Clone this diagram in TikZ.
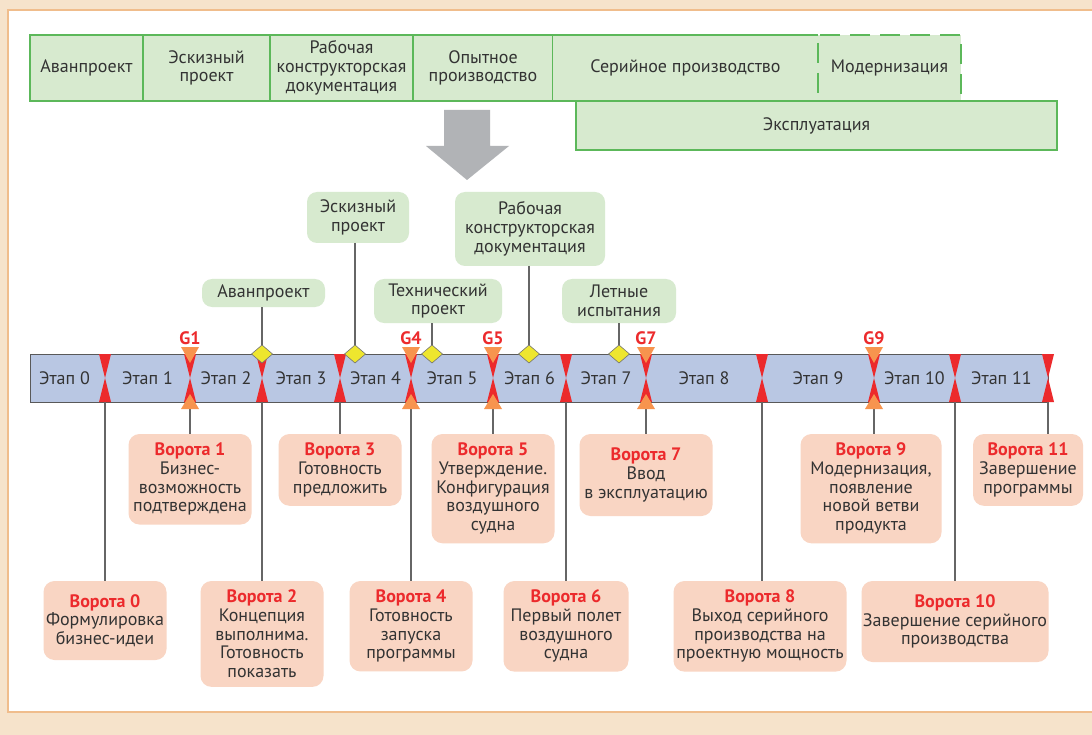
\documentclass[tikz,border=0pt]{standalone}
\usepackage{fontspec}
\setmainfont{PT Sans}
\usetikzlibrary{positioning,shapes.geometric}

\definecolor{framebg}{HTML}{F6E3CB}
\definecolor{frameline}{HTML}{F0BD8C}
\definecolor{phasefill}{HTML}{D7EACF}
\definecolor{phaseline}{HTML}{5CB85A}
\definecolor{barfill}{HTML}{B9C7E3}
\definecolor{gatered}{HTML}{EC2A2C}
\definecolor{gateorange}{HTML}{F7944E}
\definecolor{gatefill}{HTML}{F9D5C3}
\definecolor{milefill}{HTML}{EEE62E}
\definecolor{arrowgray}{HTML}{B1B3B6}
\definecolor{textgray}{HTML}{333333}

% orange tips and G label of a key gate
\newcommand{\keygate}[2]{%
    \fill[gateorange] ([xshift=-9pt,yshift=7pt]#1.north) -- ([xshift=9pt,yshift=7pt]#1.north) -- ([yshift=-9pt]#1.north) -- cycle;
    \fill[gateorange] ([xshift=-9pt,yshift=-7pt]#1.south) -- ([xshift=9pt,yshift=-7pt]#1.south) -- ([yshift=8pt]#1.south) -- cycle;
    \node[gname] (#1-g) at ([yshift=16pt]#1.north) {#2};}
\newcommand{\gatetitle}[1]{\textcolor{gatered}{\bfseries Ворота #1}}

\begin{document}
\begin{tikzpicture}[x=1pt, y=-1pt, text=textgray, align=center, node distance=0pt,
    font=\fontsize{18}{18.7}\selectfont]
    \tikzstyle{every node}=[inner sep=0pt, outer sep=0pt];
    \tikzstyle{phase}=[draw=phaseline, fill=phasefill, line width=2.6pt, minimum height=66pt]
    \tikzstyle{gatemark}=[minimum width=12pt, minimum height=48pt, path picture={
        \fill[gatered] (path picture bounding box.north west) -- (path picture bounding box.north east)
        -- (path picture bounding box.south west) -- (path picture bounding box.south east) -- cycle;}]
    \tikzstyle{mile}=[diamond, draw=black!55, fill=milefill, line width=0.6pt, minimum width=21pt, minimum height=18pt]
    \tikzstyle{callout}=[fill=phasefill, rounded corners=10pt]
    \tikzstyle{gate}=[fill=gatefill, rounded corners=11pt, inner ysep=9pt]
    \tikzstyle{conn}=[draw=black!60, line width=1.1pt]
    \tikzstyle{gname}=[text=gatered, font=\fontsize{18}{18.7}\selectfont\bfseries]

    \useasboundingbox (0,0) rectangle (1092,735);
    \fill[framebg] (0,0) rectangle (1092,735);
    \fill[white] (8,10) rectangle (1092,712);
    \draw[frameline, line width=2.5pt] (1092,10) -- (8,10) -- (8,712) -- (1092,712);

    % life cycle phases
    \node[phase, minimum width=113pt] (p1) at (86.5,68) {Аванпроект};
    \node[phase, minimum width=127pt, right=of p1] (p2) {Эскизный\\проект};
    \node[phase, minimum width=143pt, right=of p2] (p3) {Рабочая\\конструкторская\\документация};
    \node[phase, minimum width=140pt, right=of p3] (p4) {Опытное\\производство};
    \node[phase, minimum width=265pt, right=of p4, draw=none] (p5) {Серийное производство};
    \node[phase, minimum width=143pt, right=of p5, dash pattern=on 20pt off 10pt] (p6) {Модернизация};
    \draw[phaseline, line width=2.6pt] (p5.north west) -- (p5.north east) (p5.south west) -- (p5.south east);
    \node[phase, minimum width=481pt, minimum height=49pt, anchor=north west] (p7)
        at ([xshift=23pt]p5.south west) {Эксплуатация};

    \fill[arrowgray] (444,110) -- (490,110) -- (490,146) -- (509,146) -- (467,180) -- (426,146) -- (444,146) -- cycle;

    % stages and gates
    \node[draw=black!65, fill=barfill, line width=1pt, minimum width=1018pt, minimum height=48pt] (bar) at (539,378) {};
    \node[gatemark] (m0) at (105,378) {};
    \node[gatemark] (m1) at (190,378) {};
    \node[gatemark] (m2) at (262,378) {};
    \node[gatemark] (m3) at (340,378) {};
    \node[gatemark] (m4) at (411,378) {};
    \node[gatemark] (m5) at (493,378) {};
    \node[gatemark] (m6) at (566,378) {};
    \node[gatemark] (m7) at (646,378) {};
    \node[gatemark] (m8) at (762,378) {};
    \node[gatemark] (m9) at (874,378) {};
    \node[gatemark] (m10) at (955,378) {};
    \node[gatemark] (m11) at (1048,378) {};

    \path (bar.west) -- (m0) node[midway] (s0) {Этап 0};
    \path (m0) -- (m1) node[midway] (s1) {Этап 1};
    \path (m1) -- (m2) node[midway] (s2) {Этап 2};
    \path (m2) -- (m3) node[midway] (s3) {Этап 3};
    \path (m3) -- (m4) node[midway] (s4) {Этап 4};
    \path (m4) -- (m5) node[midway] (s5) {Этап 5};
    \path (m5) -- (m6) node[midway] (s6) {Этап 6};
    \path (m6) -- (m7) node[midway] (s7) {Этап 7};
    \path (m7) -- (m8) node[midway] (s8) {Этап 8};
    \path (m8) -- (m9) node[midway] (s9) {Этап 9};
    \path (m9) -- (m10) node[midway] (s10) {Этап 10};
    \path (m10) -- (m11) node[midway] (s11) {Этап 11};

    % milestones
    \node[mile] (d1) at (262,354) {};
    \node[mile] (d2) at (355,354) {};
    \node[mile] (d3) at (432,354) {};
    \node[mile] (d4) at (529,354) {};
    \node[mile] (d5) at (619,354) {};
    \node[callout, minimum width=123pt, minimum height=28pt] (ms1) at (263.5,293) {Аванпроект};
    \node[callout, minimum width=102pt, minimum height=51pt] (ms2) at (358,217.5) {Эскизный\\проект};
    \node[callout, minimum width=128pt, minimum height=44pt] (ms3) at (438,301) {Технический\\проект};
    \node[callout, minimum width=150pt, minimum height=74pt] (ms4) at (530,229) {Рабочая\\конструкторская\\документация};
    \node[callout, minimum width=114pt, minimum height=44pt] (ms5) at (619,301) {Летные\\испытания};

    \draw[conn] (ms1.south -| d1) -- (d1.north);
    \draw[conn] (ms2.south -| d2) -- (d2.north);
    \draw[conn] (ms3.south -| d3) -- (d3.north);
    \draw[conn] (ms4.south -| d4) -- (d4.north);
    \draw[conn] (ms5.south -| d5) -- (d5.north);

    % gate descriptions
    \node[gate, minimum width=123pt, minimum height=79pt, below=179pt of m0] (g0) {\gatetitle{0}\\Формулировка\\бизнес-идеи};
    \node[gate, minimum width=123pt, below=32pt of m1] (g1) {\gatetitle{1}\\Бизнес-\\возможность\\подтверждена};
    \node[gate, minimum width=123pt, below=179pt of m2] (g2) {\gatetitle{2}\\Концепция\\выполнима.\\Готовность\\показать};
    \node[gate, minimum width=123pt, below=32pt of m3] (g3) {\gatetitle{3}\\Готовность\\предложить};
    \node[gate, minimum width=123pt, below=179pt of m4] (g4) {\gatetitle{4}\\Готовность\\запуска\\программы};
    \node[gate, minimum width=123pt, below=32pt of m5] (g5) {\gatetitle{5}\\Утверждение.\\Конфигурация\\воздушного\\судна};
    \node[gate, minimum width=125pt, below=179pt of m6] (g6) {\gatetitle{6}\\Первый полет\\воздушного\\судна};
    \node[gate, minimum width=133pt, minimum height=82pt, below=32pt of m7] (g7) {\gatetitle{7}\\Ввод\\в эксплуатацию};
    \node[gate, minimum width=173pt, below=179pt of m8, xshift=-2pt] (g8) {\gatetitle{8}\\Выход серийного\\производства на\\проектную мощность};
    \node[gate, minimum width=141pt, below=32pt of m9, xshift=-3pt] (g9) {\gatetitle{9}\\Модернизация,\\появление\\новой ветви\\продукта};
    \node[gate, minimum width=187pt, minimum height=81pt, below=179pt of m10] (g10) {\gatetitle{10}\\Завершение серийного\\производства};
    \node[gate, minimum width=110pt, below=32pt of m11, xshift=-20pt] (g11) {\gatetitle{11}\\Завершение\\программы};

    \draw[conn] (m0.south) -- (g0.north -| m0.south);
    \draw[conn] (m1.south) -- (g1.north -| m1.south);
    \draw[conn] (m2.south) -- (g2.north -| m2.south);
    \draw[conn] (m3.south) -- (g3.north -| m3.south);
    \draw[conn] (m4.south) -- (g4.north -| m4.south);
    \draw[conn] (m5.south) -- (g5.north -| m5.south);
    \draw[conn] (m6.south) -- (g6.north -| m6.south);
    \draw[conn] (m7.south) -- (g7.north -| m7.south);
    \draw[conn] (m8.south) -- (g8.north -| m8.south);
    \draw[conn] (m9.south) -- (g9.north -| m9.south);
    \draw[conn] (m10.south) -- (g10.north -| m10.south);
    \draw[conn] (m11.south) -- (g11.north -| m11.south);

    \keygate{m1}{G1}
    \keygate{m4}{G4}
    \keygate{m5}{G5}
    \keygate{m7}{G7}
    \keygate{m9}{G9}
\end{tikzpicture}
\end{document}
